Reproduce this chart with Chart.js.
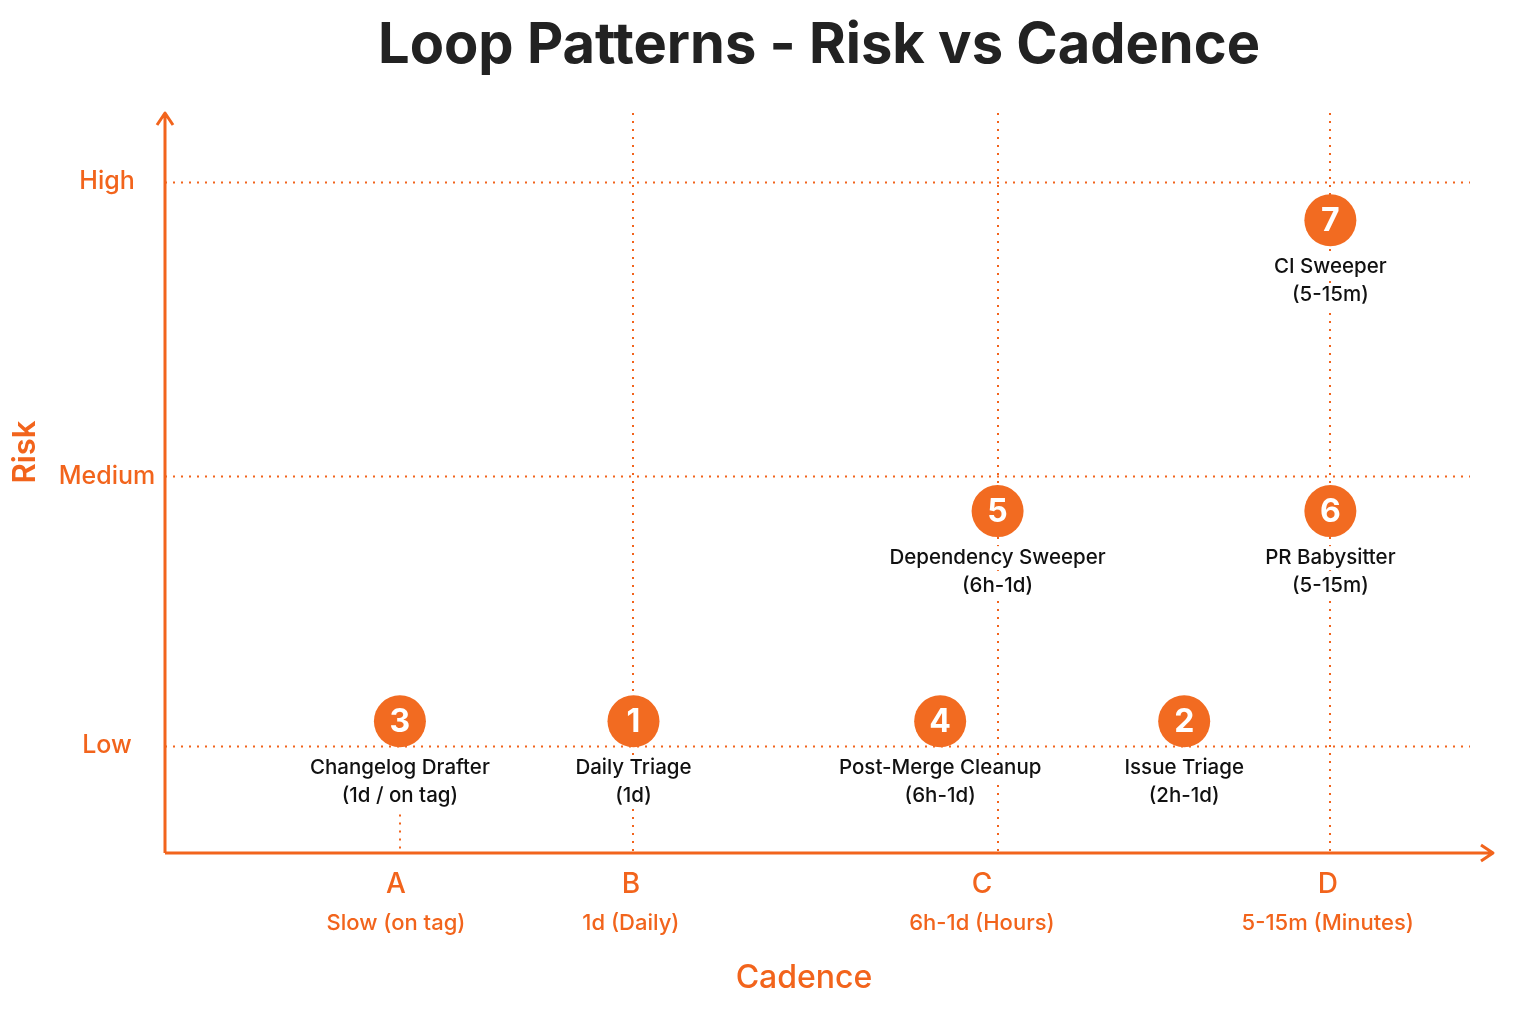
<!DOCTYPE html>
<html>
<head>
<meta charset="utf-8">
<title>Loop Patterns - Risk vs Cadence</title>
<script src="https://cdn.jsdelivr.net/npm/chart.js@4.4.1/dist/chart.umd.min.js"></script>
<style>
  html, body { margin: 0; padding: 0; background: #fff; }
  #wrap { width: 1536px; height: 1024px; }
</style>
</head>
<body>
<div id="wrap"><canvas id="myChart"></canvas></div>
<script>
// loops, numbered 1..7
var loopIds = ["1", "2", "3", "4", "5", "6", "7"];
var loopNames = ["Daily Triage", "Issue Triage", "Changelog Drafter", "Post-Merge Cleanup",
  "Dependency Sweeper", "PR Babysitter", "CI Sweeper"];
var loopCadences = ["(1d)", "(2h-1d)", "(1d / on tag)", "(6h-1d)", "(6h-1d)", "(5-15m)", "(5-15m)"];
// cadence (0 = slowest .. 100 = fastest) and risk (0 .. 100)
var xValues = [35.9, 78.1, 18.0, 59.4, 63.8, 89.3, 89.3];
var yValues = [17.8, 17.8, 17.8, 17.8, 46.2, 46.2, 85.5];

var cadenceTicks = ["A", "B", "C", "D"];
var cadenceTickText = ["Slow (on tag)", "1d (Daily)", "6h-1d (Hours)", "5-15m (Minutes)"];
var cadenceTickValues = [17.7, 35.7, 62.6, 89.1];
var riskTicks = ["Low", "Medium", "High"];
var riskTickValues = [14.5, 50.9, 90.7];

var ORANGE = "#f2641c";
var DOT = "#f26b21";
var FONT = "Inter, 'Noto Sans', sans-serif";

// vertical dotted guides: [x value, top y value]
var vGuides = [[18.0, 5.2], [35.9, 100], [63.8, 100], [89.3, 100]];

var quadPlugin = {
  id: "quad",
  beforeDatasetsDraw: function(chart) {
    var ctx = chart.ctx, a = chart.chartArea;
    var xs = chart.scales.x, ys = chart.scales.y;
    ctx.save();
    // title
    ctx.fillStyle = "#222";
    ctx.font = "700 56px " + FONT;
    ctx.textAlign = "center";
    ctx.textBaseline = "middle";
    ctx.fillText("Loop Patterns - Risk vs Cadence", 819, 46);

    // dotted grid
    ctx.strokeStyle = ORANGE;
    ctx.lineWidth = 2;
    ctx.setLineDash([2, 6]);
    riskTickValues.forEach(function(v) {
      var y = Math.round(ys.getPixelForValue(v)) + 0.5;
      ctx.beginPath();
      ctx.moveTo(a.left, y);
      ctx.lineTo(a.right, y);
      ctx.stroke();
    });
    vGuides.forEach(function(g) {
      var x = Math.round(xs.getPixelForValue(g[0]));
      ctx.beginPath();
      ctx.moveTo(x, ys.getPixelForValue(g[1]));
      ctx.lineTo(x, a.bottom);
      ctx.stroke();
    });
    ctx.setLineDash([]);

    // axes with arrows
    ctx.lineWidth = 3;
    ctx.lineJoin = "round";
    ctx.beginPath();
    ctx.moveTo(a.left, a.bottom);
    ctx.lineTo(a.left, a.top);
    ctx.moveTo(a.left - 8, a.top + 12);
    ctx.lineTo(a.left, a.top);
    ctx.lineTo(a.left + 8, a.top + 12);
    ctx.moveTo(a.left, a.bottom);
    ctx.lineTo(a.right + 23, a.bottom);
    ctx.moveTo(a.right + 11, a.bottom - 8);
    ctx.lineTo(a.right + 23, a.bottom);
    ctx.lineTo(a.right + 11, a.bottom + 8);
    ctx.stroke();

    // y ticks
    ctx.fillStyle = ORANGE;
    ctx.font = "500 25px " + FONT;
    riskTicks.forEach(function(t, i) {
      ctx.fillText(t, 107, ys.getPixelForValue(riskTickValues[i]));
    });
    // x ticks
    cadenceTicks.forEach(function(t, i) {
      var x = xs.getPixelForValue(cadenceTickValues[i]);
      ctx.font = "500 28px " + FONT;
      ctx.fillText(t, x, a.bottom + 32);
      ctx.font = "500 22px " + FONT;
      ctx.fillText(cadenceTickText[i], x, a.bottom + 70);
    });
    // axis titles
    ctx.font = "500 32px " + FONT;
    ctx.fillText("Cadence", 804, 978);
    ctx.translate(26, 452);
    ctx.rotate(-Math.PI / 2);
    ctx.font = "600 31px " + FONT;
    ctx.fillText("Risk", 0, 0);
    ctx.restore();
  },
  afterDatasetsDraw: function(chart) {
    var ctx = chart.ctx;
    var meta = chart.getDatasetMeta(0);
    ctx.save();
    ctx.textAlign = "center";
    ctx.textBaseline = "middle";
    meta.data.forEach(function(pt, i) {
      ctx.fillStyle = "#fff";
      ctx.font = "700 32px " + FONT;
      ctx.fillText(loopIds[i], pt.x, pt.y + 1);
      var lines = [loopNames[i], loopCadences[i]];
      ctx.font = "500 20.5px " + FONT;
      lines.forEach(function(s, k) {
        var y = pt.y + 47 + k * 28;
        var w = ctx.measureText(s).width;
        ctx.fillStyle = "#fff";
        ctx.fillRect(pt.x - w / 2 - 4, y - 12, w + 8, 24);
        ctx.fillStyle = "#111";
        ctx.fillText(s, pt.x, y);
      });
    });
    ctx.restore();
  }
};

new Chart("myChart", {
  type: "scatter",
  data: {
    datasets: [{
      data: xValues.map(function(x, i) { return { x: x, y: yValues[i] }; }),
      backgroundColor: DOT,
      borderWidth: 0,
      pointRadius: 26,
      pointHoverRadius: 26
    }]
  },
  options: {
    responsive: true,
    maintainAspectRatio: false,
    animation: false,
    layout: { padding: { left: 165, right: 66, top: 113, bottom: 171 } },
    scales: {
      x: { type: "linear", min: 0, max: 100, display: false },
      y: { type: "linear", min: 0, max: 100, display: false }
    },
    plugins: {
      legend: { display: false },
      tooltip: { enabled: false }
    }
  },
  plugins: [quadPlugin]
});
</script>
</body>
</html>
